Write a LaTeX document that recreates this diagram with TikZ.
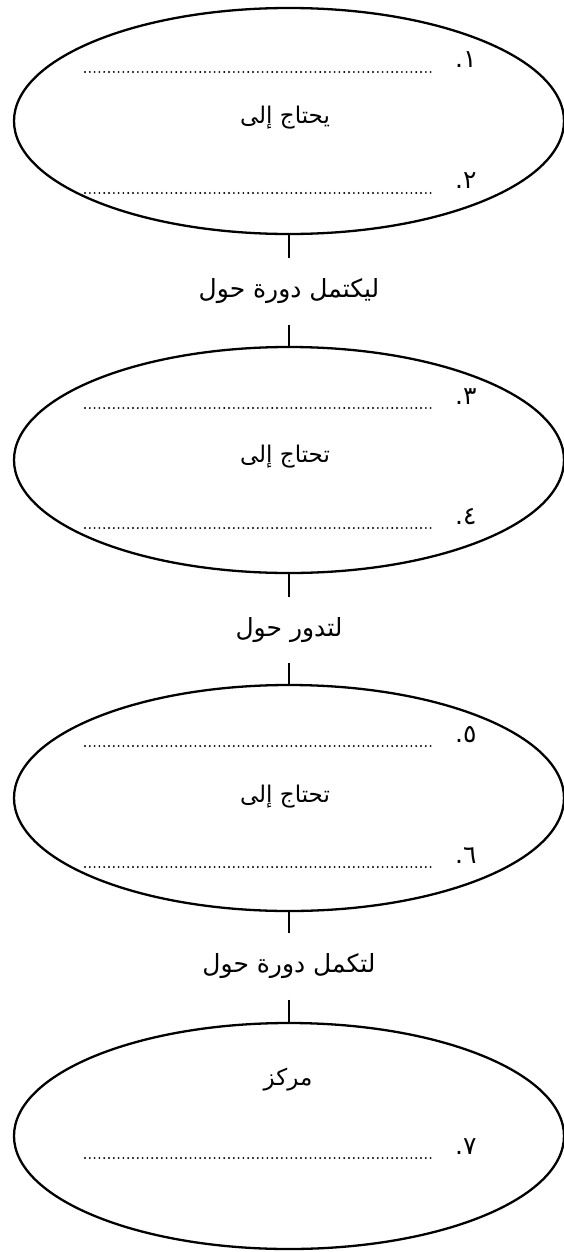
\documentclass[tikz,border=0pt]{standalone}
\usepackage{fontspec}
\newfontfamily\arabicfont[Script=Arabic]{DejaVu Sans}
\TeXXeTstate=1
\usetikzlibrary{shapes.geometric}
\begin{document}
\begin{tikzpicture}[x=1pt,y=-1pt,
  oval/.style={draw, ellipse, line width=2.3pt, minimum width=550pt, minimum height=226pt, inner sep=0pt},
  conn/.style={line width=2.3pt},
  dotline/.style={line width=2.1pt, line cap=round, dash pattern=on 0pt off 4.8pt},
  ttl/.style={font=\arabicfont\fontsize{23}{26}\selectfont, inner sep=0pt},
  lbl/.style={font=\arabicfont\fontsize{25}{28}\selectfont, inner sep=0pt, minimum height=66pt},
  num/.style={font=\arabicfont\fontsize{25}{28}\selectfont, inner sep=0pt, anchor=base west}]
\useasboundingbox (0,0) rectangle (563,1252);
% ellipses
\node[oval] (e1) at (289,121) {};
\node[oval] (e2) at (289,460) {};
\node[oval] (e3) at (289,798) {};
\node[oval] (e4) at (289,1136) {};
% connector labels
\node[lbl] (l1) at (289,291.5) {\beginR ليكتمل دورة حول\endR};
\node[lbl] (l2) at (289,630) {\beginR لتدور حول\endR};
\node[lbl] (l3) at (289,966.5) {\beginR لتكمل دورة حول\endR};
\draw[conn] (e1.south) -- (l1.north);
\draw[conn] (l1.south) -- (e2.north);
\draw[conn] (e2.south) -- (l2.north);
\draw[conn] (l2.south) -- (e3.north);
\draw[conn] (e3.south) -- (l3.north);
\draw[conn] (l3.south) -- (e4.north);
% inner titles
\node[ttl] (t1) at (285,118) {\beginR يحتاج إلى\endR};
\node[ttl] (t2) at (285,457) {\beginR تحتاج إلى\endR};
\node[ttl] (t3) at (285,797) {\beginR تحتاج إلى\endR};
\node[ttl] (t4) at (288,1080) {\beginR مركز\endR};
% numbered dotted lines
\coordinate (a1) at (85,72);   \coordinate (b1) at (433,72);
\coordinate (a2) at (85,193);  \coordinate (b2) at (433,193);
\coordinate (a3) at (85,408);  \coordinate (b3) at (433,408);
\coordinate (a4) at (85,528);  \coordinate (b4) at (433,528);
\coordinate (a5) at (85,746);  \coordinate (b5) at (433,746);
\coordinate (a6) at (85,867);  \coordinate (b6) at (433,867);
\coordinate (a7) at (85,1158); \coordinate (b7) at (433,1158);
\foreach \i in {1,...,7} \draw[dotline] (a\i) -- (b\i);
\node[num] (n1) at (455,68) {١.};
\node[num] (n2) at (455,189) {٢.};
\node[num] (n3) at (455,404) {٣.};
\node[num] (n4) at (455,524) {٤.};
\node[num] (n5) at (455,742) {٥.};
\node[num] (n6) at (455,863) {٦.};
\node[num] (n7) at (455,1154) {٧.};
\end{tikzpicture}
\end{document}
